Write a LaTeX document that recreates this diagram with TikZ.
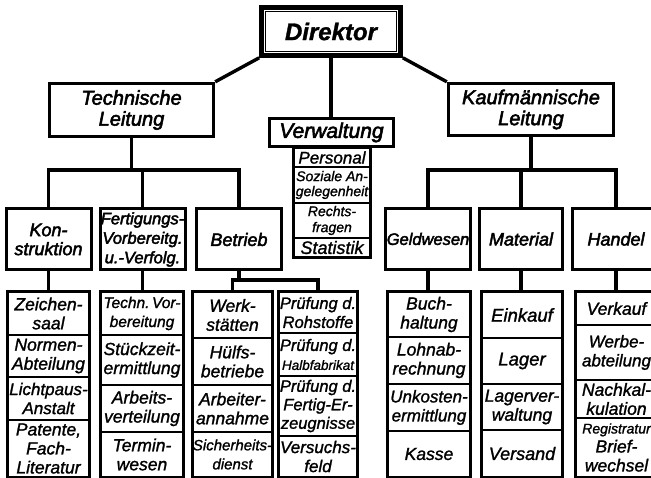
\documentclass[tikz,border=0pt]{standalone}
\usepackage{fontspec}
\setmainfont{Liberation Sans}[FakeBold=1.3]
\newfontfamily\headfont{Liberation Sans}[FakeBold=2.6]
\newcommand\fs[2]{\itshape\fontsize{#1}{#2}\selectfont}
\newcommand\hfs[2]{\headfont\itshape\fontsize{#1}{#2}\selectfont}
\tikzset{
  box/.style={draw, line width=3.4pt, inner sep=0pt, align=center},
  lvltwo/.style={box, line width=3pt, minimum height=61pt, font=\hfs{18}{19}},
  cell/.style={draw, line width=1.3pt, inner sep=0pt, align=center, font=\fs{17.5}{19}},
  conn/.style={line width=3.4pt},
  colframe/.style={line width=3pt},
}
\newcommand\mycell[7][]{%
  \pgfmathsetmacro\myw{#4-#3}\pgfmathsetmacro\myh{#6-#5}%
  \node[cell, minimum width=\myw pt, minimum height=\myh pt, #1] (#2) at ({(#3+#4)/2},{(#5+#6)/2}) {#7};}
\begin{document}
\begin{tikzpicture}[x=1pt,y=-1pt]
\useasboundingbox (0,0) rectangle (651,478);
\clip (0,0) rectangle (651,478);
\fill[white] (0,0) rectangle (651,478);

% top level
\node[box, line width=4.6pt, minimum width=139pt, minimum height=48pt, font=\bfseries\fs{24}{26}] (dir) at (331,31.5) {Direktor};
\draw[line width=1.2pt] ([shift={(6pt,-6pt)}]dir.north west) rectangle ([shift={(-6pt,6pt)}]dir.south east);

\node[box, minimum width=164pt, minimum height=53pt, font=\hfs{20}{21}] (tl) at (131.5,110) {Technische\\Leitung};
\node[box, minimum width=165pt, minimum height=52pt, font=\hfs{20}{21}] (kl) at (531,109.5) {Kaufmännische\\Leitung};
\node[box, line width=2.8pt, minimum width=124pt, minimum height=28pt, font=\hfs{21}{22}] (verw) at (331.5,132.5) {Verwaltung};

\draw[conn] (dir.south west) -- (tl.north east);
\draw[conn] (dir.south east) -- (kl.north west);
\draw[conn] (dir.south) -- (dir.south |- verw.north);

% Verwaltung column
\mycell[font=\fs{17}{17}]{vp}{294}{370}{148}{167}{Personal}
\mycell[font=\fs{14}{15}]{vs}{294}{370}{167}{203}{Soziale An-\\gelegenheit}
\mycell[font=\fs{14}{16}]{vr}{294}{370}{203}{238}{Rechts-\\fragen}
\mycell[font=\fs{18}{18}]{vst}{294}{370}{238}{257}{Statistik}
\draw[colframe] (vp.north west) rectangle (vst.south east);

% second level
\node[lvltwo, minimum width=85pt] (kon) at (48.5,239.5) {Kon-\\struktion};
\node[lvltwo, minimum width=85pt, font=\hfs{16.5}{19.5}] (fert) at (142.5,239.5) {Fertigungs-\\Vorbereitg.\\u.-Verfolg.};
\node[lvltwo, minimum width=85pt] (betr) at (239,239.5) {Betrieb};
\node[lvltwo, minimum width=85pt, font=\hfs{16.5}{19}] (geld) at (428,239) {Geldwesen};
\node[lvltwo, minimum width=83pt] (mat) at (521,239) {Material};
\node[lvltwo, minimum width=87pt] (hand) at (616,239) {Handel};

\coordinate (tj) at (132,170);
\draw[conn] (kon.north) |- (tj) -| (betr.north);
\draw[conn] (fert.north) -- (fert.north |- tj);
\draw[conn] (tl.south) -- (tl.south |- tj);

\coordinate (kj) at (531,170);
\draw[conn] (geld.north) |- (kj) -| (hand.north);
\draw[conn] (mat.north) -- (mat.north |- kj);
\draw[conn] (kl.south) -- (kl.south |- kj);

% Konstruktion column
\mycell{k1}{8}{89}{292}{335}{Zeichen-\\saal}
\mycell{k2}{8}{89}{335}{377}{Normen-\\Abteilung}
\mycell[font=\fs{17}{19}]{k3}{8}{89}{377}{420}{Lichtpaus-\\Anstalt}
\mycell{k4}{8}{89}{420}{477}{Patente,\\Fach-\\Literatur}
\draw[colframe] (k1.north west) rectangle (k4.south east);
\draw[conn] (kon.south) -- (kon.south |- k1.north);

% Fertigung column
\mycell[font=\fs{15.5}{19}]{f1}{101}{183}{292}{335}{Techn.\,Vor-\\bereitung}
\mycell{f2}{101}{183}{335}{385}{Stückzeit-\\ermittlung}
\mycell{f3}{101}{183}{385}{432}{Arbeits-\\verteilung}
\mycell{f4}{101}{183}{432}{477}{Termin-\\wesen}
\draw[colframe] (f1.north west) rectangle (f4.south east);
\draw[conn] (fert.south) -- (fert.south |- f1.north);

% Betrieb columns
\mycell{w1}{193}{272}{292}{338}{Werk-\\stätten}
\mycell{w2}{193}{272}{338}{385}{Hülfs-\\betriebe}
\mycell{w3}{193}{272}{385}{432}{Arbeiter-\\annahme}
\mycell[font=\fs{15}{19}]{w4}{193}{272}{432}{477}{Sicherheits-\\dienst}
\draw[colframe] (w1.north west) rectangle (w4.south east);

\mycell[font=\fs{16.5}{19}]{p1}{279}{357}{292}{333}{Prüfung d.\\Rohstoffe}
\mycell[font=\fs{16.5}{19}]{p2}{279}{357}{333}{376}{Prüfung d.\\{\fontsize{13.5}{15}\selectfont Halbfabrikat}}
\mycell[font=\fs{16.5}{18.5}]{p3}{279}{357}{376}{436}{Prüfung d.\\Fertig-Er-\\zeugnisse}
\mycell[font=\fs{17}{19}]{p4}{279}{357}{436}{477}{Versuchs-\\feld}
\draw[colframe] (p1.north west) rectangle (p4.south east);

\coordinate (bj) at (239,280);
\draw[conn] (w1.north) |- (bj) -| (p1.north);
\draw[conn] (betr.south) -- (betr.south |- bj);

% Geldwesen column
\mycell{g1}{388}{470}{292}{337}{Buch-\\haltung}
\mycell{g2}{388}{470}{337}{384}{Lohnab-\\rechnung}
\mycell[font=\fs{17}{19}]{g3}{388}{470}{384}{431}{Unkosten-\\ermittlung}
\mycell{g4}{388}{470}{431}{477}{Kasse}
\draw[colframe] (g1.north west) rectangle (g4.south east);
\draw[conn] (geld.south) -- (geld.south |- g1.north);

% Material column
\mycell[font=\fs{18.5}{19}]{m1}{482}{562}{292}{338}{Einkauf}
\mycell[font=\fs{18.5}{19}]{m2}{482}{562}{338}{384}{Lager}
\mycell{m3}{482}{562}{384}{430}{Lagerver-\\waltung}
\mycell[font=\fs{18}{19}]{m4}{482}{562}{430}{477}{Versand}
\draw[colframe] (m1.north west) rectangle (m4.south east);
\draw[conn] (mat.south) -- (mat.south |- m1.north);

% Handel column
\mycell{h1}{576}{657}{292}{325}{Verkauf}
\mycell[font=\fs{17}{19}]{h2}{576}{657}{325}{380}{Werbe-\\abteilung}
\mycell{h3}{576}{657}{380}{418}{Nachkal-\\kulation}
\mycell{h4}{576}{657}{418}{477}{{\fontsize{14}{19}\selectfont Registratur}\\Brief-\\wechsel}
\draw[colframe] (h1.north west) rectangle (h4.south east);
\draw[conn] (hand.south) -- (hand.south |- h1.north);
\end{tikzpicture}
\end{document}
